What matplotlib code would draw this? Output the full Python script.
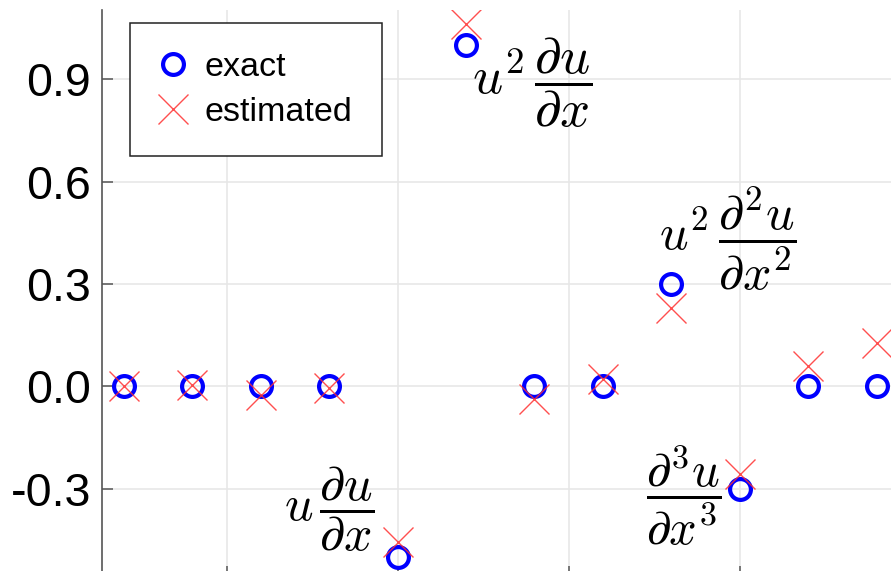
import numpy as np
import matplotlib
matplotlib.use("Agg")
import matplotlib.pyplot as plt

plt.rcParams['font.family'] = ['Liberation Sans', 'DejaVu Sans']
plt.rcParams['mathtext.fontset'] = 'cm'

# data
terms = np.arange(1, 13)
exact = [0, 0, 0, 0, -0.5, 1.0, 0, 0, 0.3, -0.3, 0, 0]
estimated = [0.0, 0.003, -0.024, -0.006, -0.455, 1.062, -0.038, 0.023, 0.229, -0.256, 0.059, 0.126]
yticks = [-0.3, 0.0, 0.3, 0.6, 0.9]
ytick_labels = ['-0.3', '0.0', '0.3', '0.6', '0.9']
xticks = [2.5, 5, 7.5, 10]

W, H = 891, 571
fig = plt.figure(figsize=(W / 100, H / 100), dpi=100)
ax = fig.add_axes([102 / W, -2 / H, (W - 102) / W, 563 / H])

ax.plot(terms, exact, 'o', ms=15, mfc='none', mec='#0000ff', mew=3, label='exact', zorder=3)
ax.plot(terms, estimated, 'x', ms=21, mec='#ff3030', mew=1.0, alpha=0.85, label='estimated', zorder=4)

ax.set_xlim(0.68, 12.21)
ax.set_ylim(-0.547, 1.103)
ax.set_xticks(xticks)
ax.set_xticklabels([])
ax.set_yticks(yticks)
ax.set_yticklabels(ytick_labels)
ax.grid(True, color='#e6e6e6', lw=1.1)
ax.set_axisbelow(True)

for s in ['top', 'right', 'bottom']:
    ax.spines[s].set_visible(False)
ax.spines['left'].set_color('#555555')
ax.spines['left'].set_linewidth(1.2)
ax.tick_params(axis='y', direction='in', length=8, width=1.1, color='#555555',
               labelsize=33.5, pad=8)
ax.tick_params(axis='x', direction='in', length=5, width=1.1, color='#555555')

# term labels
ax.text(4.655, -0.360, r'$u\,\dfrac{\partial u}{\partial x}$', fontsize=36, ha='right', va='center')
ax.text(6.088, 0.891, r'$u^2\,\dfrac{\partial u}{\partial x}$', fontsize=38, ha='left', va='center')
ax.text(8.822, 0.434, r'$u^2\,\dfrac{\partial^2 u}{\partial x^2}$', fontsize=36, ha='left', va='center')
ax.text(9.743, -0.321, r'$\dfrac{\partial^3 u}{\partial x^3}$', fontsize=35, ha='right', va='center')

leg = ax.legend(loc='upper left', bbox_to_anchor=(130 / W, 1 - 23 / H),
                bbox_transform=fig.transFigure, fontsize=24.5, frameon=True,
                fancybox=False, framealpha=1, edgecolor='#222222', borderaxespad=0,
                handlelength=0.8, handletextpad=0.55, borderpad=0.85, labelspacing=0.4)
leg.get_frame().set_linewidth(1.1)

fig.savefig('out.png', dpi=100)
